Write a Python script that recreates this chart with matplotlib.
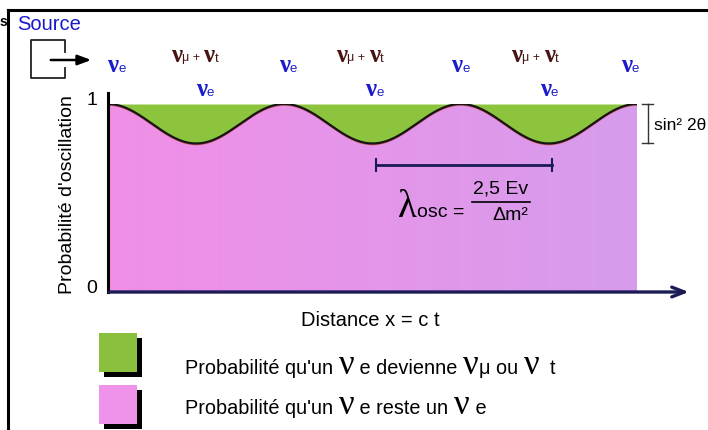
import numpy as np
import matplotlib
matplotlib.use("Agg")
import matplotlib.pyplot as plt
from matplotlib.offsetbox import TextArea, HPacker, AnnotationBbox
from matplotlib.colors import LinearSegmentedColormap
from matplotlib.patches import Rectangle

# ---------------- data ----------------
n_wavelengths = 3            # oscillation lengths shown along the distance axis
wavelength = 1.0             # lambda_osc (distance unit)
sin2_2theta = 0.21           # oscillation amplitude (depth of the troughs)
lambda_bar_start = 1.52      # start of the lambda_osc measuring bar
y_ticks = [0, 1]
y_tick_labels = ["0", "1"]
top_nue_x = [0.05, 1.02, 2.0, 2.96]        # nu_e labels above the crests
mix_x = [0.49, 1.43, 2.42]                 # nu_mu + nu_t labels
low_nue_x = [0.55, 1.51, 2.50]             # nu_e labels above the troughs

W, H = 708, 430
fig = plt.figure(figsize=(W / 100, H / 100), dpi=100)
fig.patch.set_facecolor("white")

SANS = "Liberation Sans"
SERIF = "Liberation Serif"
BLUE = "#1c1ccc"
BROWN = "#4a1414"
NAVY = "#1b1b55"
GREEN = "#8cc43e"


def fp(x, y):
    return (x / W, 1 - y / H)


def fline(xs, ys, **kw):
    fig.add_artist(plt.Line2D([v / W for v in xs], [1 - v / H for v in ys], **kw))


# ---------------- main axes ----------------
x0p, x1p, y0p, y1p = 108, 637, 292, 104
ax = fig.add_axes([x0p / W, (H - y0p) / H, (x1p - x0p) / W, (y0p - y1p) / H])
ax.set_xlim(0, n_wavelengths * wavelength)
ax.set_ylim(0, 1)
ax.axis("off")

x = np.linspace(0, n_wavelengths * wavelength, 1200)
p_ee = 1 - sin2_2theta * np.sin(np.pi * x / wavelength) ** 2

ax.fill_between(x, p_ee, 1, color=GREEN, lw=0, zorder=1)
poly = ax.fill_between(x, 0, p_ee, color="none", lw=0, zorder=1)
cmap = LinearSegmentedColormap.from_list("pk", ["#f08fe6", "#e496ea", "#d79cec"])
grad = np.linspace(0, 1, 256).reshape(1, -1)
im = ax.imshow(grad, extent=[0, n_wavelengths * wavelength, 0, 1], aspect="auto",
               cmap=cmap, zorder=1, origin="lower")
im.set_clip_path(poly.get_paths()[0], transform=ax.transData)
ax.plot(x, p_ee - 0.006, color="#d05a6a", lw=1.0, zorder=2)
ax.plot(x, p_ee, color="#151515", lw=1.6, zorder=3)

# axes lines
ax.plot([0, 0], [0, 1.06], color="black", lw=2.2, clip_on=False, zorder=4)
ax.annotate("", xy=(3.31, 0), xytext=(-0.01, 0), xycoords="data",
            arrowprops=dict(arrowstyle="->,head_length=0.9,head_width=0.35",
                            color=NAVY, lw=2.4), annotation_clip=False, zorder=4)
for yt, lab in zip(y_ticks, y_tick_labels):
    ax.text(-0.06, yt + 0.02, lab, ha="right", va="center", fontsize=14,
            family=SANS, color="black")

# lambda bar
yb = 0.675
ax.plot([lambda_bar_start, lambda_bar_start + wavelength], [yb, yb], color=NAVY, lw=2.0, zorder=4)
for xe in (lambda_bar_start, lambda_bar_start + wavelength):
    ax.plot([xe, xe], [yb - 0.03, yb + 0.03], color=NAVY, lw=1.5, zorder=4)

# sin^2 2theta bracket
xs = 3.06
ax.plot([xs, xs], [1 - sin2_2theta, 1], color="#333333", lw=1.0, clip_on=False)
for yy in (1 - sin2_2theta, 1):
    ax.plot([xs - 0.03, xs + 0.03], [yy, yy], color="#333333", lw=1.0, clip_on=False)
fig.text(*fp(654, 126), "sin² 2θ", fontsize=12.5, family=SANS, ha="left", va="center")

# ---------------- text helpers ----------------

def packed(parts, xy_px, align=(0.5, 0.5)):
    kids = [TextArea(s, textprops=props) for s, props in parts]
    box = HPacker(children=kids, align="baseline", pad=0, sep=0)
    ab = AnnotationBbox(box, fp(*xy_px), xycoords="figure fraction",
                        box_alignment=align, frameon=False, pad=0)
    fig.add_artist(ab)


def nu_props(color, size=18, weight="bold"):
    return dict(family=SERIF, fontsize=size, color=color, weight=weight)


def sub_props(color, size=9.5):
    return dict(family=SANS, fontsize=size, color=color)


def px_of(xd):
    return x0p + xd * (x1p - x0p) / (n_wavelengths * wavelength)


for xd in top_nue_x:
    packed([("ν", nu_props(BLUE)), ("e", sub_props(BLUE))], (px_of(xd), 66))
for xd in low_nue_x:
    packed([("ν", nu_props(BLUE)), ("e", sub_props(BLUE))], (px_of(xd), 89))
for xd in mix_x:
    packed([("ν", nu_props(BROWN)), ("μ + ", sub_props(BROWN, 9)),
            ("ν", nu_props(BROWN)), ("t", sub_props(BROWN))], (px_of(xd), 55))

# lambda_osc formula
packed([("λ", dict(family=SERIF, fontsize=28, color="black")),
        ("osc = ", dict(family=SANS, fontsize=14, color="black"))], (398, 207), align=(0, 0.5))
fig.text(*fp(501, 189), "2,5 Ev", fontsize=14, family=SANS, ha="center", va="center")
fline([472, 530], [202, 202], color="black", lw=1.2)
fig.text(*fp(510, 215), "Δm²", fontsize=14, family=SANS, ha="center", va="center")

# labels
fig.text(*fp(68, 195), "Probabilité d'oscillation", rotation=90, fontsize=14,
         family=SANS, ha="center", va="center")
fig.text(*fp(370, 320), "Distance x = c t", fontsize=14.5, family=SANS,
         ha="center", va="center")
fig.text(*fp(17, 24), "Source", fontsize=14.5, family=SANS, color="#1a1acc",
         ha="left", va="center")

# source box and arrow
fline([65, 65, 31, 31, 65, 65], [52, 40, 40, 78, 78, 68], color="#222222", lw=1.3)
ax.annotate("", xy=fp(94, 60), xytext=fp(48, 60), xycoords="figure fraction",
            textcoords="figure fraction",
            arrowprops=dict(arrowstyle="-|>,head_length=0.8,head_width=0.3",
                            color="black", lw=1.8), annotation_clip=False)

# frame
fline([8, 8], [10, H], color="black", lw=2.2)
fline([8, W], [10, 10], color="black", lw=2.2)
fig.text(*fp(0, 22), "s", fontsize=10, family=SANS, weight="bold", ha="left", va="center")

# legend squares with shadow
for ytop, col in ((333, "#8bbf3e"), (385, "#ef92ea")):
    fig.add_artist(Rectangle(((99 + 5) / W, 1 - (ytop + 44) / H), 38 / W, 39 / H,
                             transform=fig.transFigure, color="black", lw=0))
    fig.add_artist(Rectangle((99 / W, 1 - (ytop + 39) / H), 38 / W, 39 / H,
                             transform=fig.transFigure, color=col, lw=0))

sans14 = dict(family=SANS, fontsize=14.3, color="black")
nu_big = dict(family=SERIF, fontsize=25, color="black")
packed([("Probabilité qu'un ", sans14), ("ν", nu_big), (" e devienne ", sans14),
        ("ν", nu_big), ("μ ou ", sans14), ("ν", nu_big), ("  t", sans14)],
       (185, 366), align=(0, 0.5))
packed([("Probabilité qu'un ", sans14), ("ν", nu_big), (" e reste un ", sans14),
        ("ν", nu_big), (" e", sans14)],
       (185, 406), align=(0, 0.5))

fig.savefig("out.png", dpi=100)
